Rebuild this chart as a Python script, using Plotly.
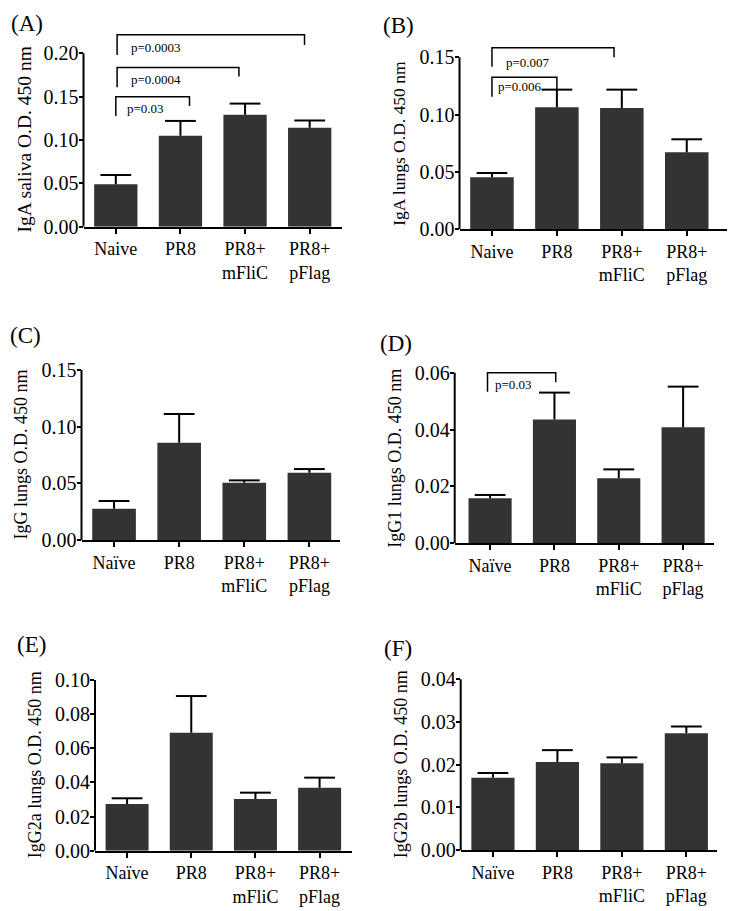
import plotly.graph_objects as go

# ---------------- data ----------------
categories = ["Naive", "PR8", "PR8+<br>mFliC", "PR8+<br>pFlag"]
categories_uml = ["Naïve", "PR8", "PR8+<br>mFliC", "PR8+<br>pFlag"]

iga_saliva = [0.049, 0.105, 0.129, 0.114]
iga_saliva_err = [0.0106, 0.017, 0.013, 0.0085]

iga_lungs = [0.0454, 0.1064, 0.1058, 0.0672]
iga_lungs_err = [0.0037, 0.0154, 0.016, 0.0113]

igg_lungs = [0.0276, 0.0859, 0.0506, 0.0594]
igg_lungs_err = [0.0068, 0.0253, 0.002, 0.0032]

igg1_lungs = [0.0158, 0.0435, 0.0229, 0.0408]
igg1_lungs_err = [0.0012, 0.0095, 0.0031, 0.0143]

igg2a_lungs = [0.0273, 0.0691, 0.0303, 0.0369]
igg2a_lungs_err = [0.0034, 0.0215, 0.0037, 0.0059]

igg2b_lungs = [0.01695, 0.0206, 0.0203, 0.02734]
igg2b_lungs_err = [0.0011, 0.0028, 0.0014, 0.0016]

y_titles = ["IgA saliva O.D. 450 nm", "IgA lungs O.D. 450 nm", "IgG lungs O.D. 450 nm",
            "IgG1 lungs O.D. 450 nm", "IgG2a lungs O.D. 450 nm", "IgG2b lungs O.D. 450 nm"]
panel_letters = ["(A)", "(B)", "(C)", "(D)", "(E)", "(F)"]

tick_A = [0.00, 0.05, 0.10, 0.15, 0.20]
tick_B = [0.00, 0.05, 0.10, 0.15]
tick_C = [0.00, 0.05, 0.10, 0.15]
tick_D = [0.00, 0.02, 0.04, 0.06]
tick_E = [0.00, 0.02, 0.04, 0.06, 0.08, 0.10]
tick_F = [0.00, 0.01, 0.02, 0.03, 0.04]

# significance comparisons: (panel index, group a, group b, p text)
comparisons = [
    (0, 0, 1, "p=0.03"),
    (0, 0, 2, "p=0.0004"),
    (0, 0, 3, "p=0.0003"),
    (1, 0, 1, "p=0.006"),
    (1, 0, 2, "p=0.007"),
    (3, 0, 1, "p=0.03"),
]

# ---------------- layout geometry ----------------
W, H = 729, 911
FONT = "Liberation Serif, Times New Roman, serif"
BAR = "#333333"

panels = [
    dict(vals=iga_saliva, err=iga_saliva_err, cats=categories, ticks=tick_A, fmt="{:.2f}",
         px=(83.5, 342), xr=(-0.5, 3.5), y0=226.7, ymax=0.20, ymaxpx=53.3, ytop=0.23, tfs=19.5),
    dict(vals=iga_lungs, err=iga_lungs_err, cats=categories, ticks=tick_B, fmt="{:.2f}",
         px=(459.5, 727), xr=(-0.5, 3.62), y0=229.3, ymax=0.15, ymaxpx=57.3, ytop=0.165, tfs=17.5),
    dict(vals=igg_lungs, err=igg_lungs_err, cats=categories_uml, ticks=tick_C, fmt="{:.2f}",
         px=(81.5, 340), xr=(-0.5, 3.47), y0=540, ymax=0.15, ymaxpx=370, ytop=0.152, tfs=18),
    dict(vals=igg1_lungs, err=igg1_lungs_err, cats=categories_uml, ticks=tick_D, fmt="{:.2f}",
         px=(454.7, 714), xr=(-0.55, 3.48), y0=543.3, ymax=0.06, ymaxpx=372.7, ytop=0.062, tfs=18),
    dict(vals=igg2a_lungs, err=igg2a_lungs_err, cats=categories_uml, ticks=tick_E, fmt="{:.2f}",
         px=(95, 351.7), xr=(-0.5, 3.5), y0=850.7, ymax=0.10, ymaxpx=680, ytop=0.101, tfs=18),
    dict(vals=igg2b_lungs, err=igg2b_lungs_err, cats=categories_uml, ticks=tick_F, fmt="{:.2f}",
         px=(460.7, 717.3), xr=(-0.5, 3.48), y0=850, ymax=0.04, ymaxpx=679.3, ytop=0.0405, tfs=18),
]

label_pos = [(26.7, 24), (398, 25), (25, 335), (396, 343), (31, 644), (397.5, 648)]

# bracket geometry per comparison (x-left, x-right, y-top, y-left-bottom, y-right-bottom, text x, text y)
bracket_geom = [
    (0.0, 1.14, 0.150, 0.1277, 0.1393, 0.14, 0.1358),
    (0.02, 1.905, 0.1835, 0.1608, 0.1731, 0.206, 0.170),
    (0.02, 2.92, 0.2215, 0.198, 0.2097, 0.206, 0.2065),
    (0.0, 1.0, 0.1326, 0.1157, 0.1221, 0.057, 0.1244),
    (0.0, 1.88, 0.1584, 0.1418, 0.150, 0.185, 0.1456),
    (-0.04, 1.02, 0.060, 0.0533, 0.0566, 0.05, 0.056),
]

fig = go.Figure()
layout = dict(template="none", width=W, height=H,
              margin=dict(l=0, r=0, t=0, b=0, pad=0, autoexpand=False),
              paper_bgcolor="white", plot_bgcolor="white", showlegend=False,
              font=dict(family=FONT, color="black"))
shapes = []
annotations = []

for i, p in enumerate(panels):
    n = "" if i == 0 else str(i + 1)
    xa, ya = "x" + n, "y" + n
    xs = list(range(len(p["vals"])))
    tops = [v + e for v, e in zip(p["vals"], p["err"])]
    fig.add_trace(go.Bar(
        x=xs, y=p["vals"], xaxis=xa, yaxis=ya,
        width=0.67, marker=dict(color=BAR, line=dict(width=0)),
    ))
    # upper error bars: stem from bar top to mean+SEM, cap at the end
    stem_x, stem_y = [], []
    for xv, v, t in zip(xs, p["vals"], tops):
        stem_x += [xv, xv, None]
        stem_y += [v, t, None]
    fig.add_trace(go.Scatter(x=stem_x, y=stem_y, xaxis=xa, yaxis=ya, mode="lines",
                             line=dict(color="black", width=2), hoverinfo="skip"))
    fig.add_trace(go.Scatter(x=xs, y=tops, xaxis=xa, yaxis=ya, mode="markers",
                             marker=dict(symbol="line-ew", size=22, color="black",
                                         line=dict(color="black", width=2)),
                             cliponaxis=False, hoverinfo="skip"))
    scale = (p["y0"] - p["ymaxpx"]) / p["ymax"]
    top_px = p["y0"] - p["ytop"] * scale
    xdom = [p["px"][0] / W, p["px"][1] / W]
    ydom = [1 - p["y0"] / H, 1 - top_px / H]
    layout["xaxis" + n] = dict(
        domain=xdom, range=list(p["xr"]), anchor=ya, showgrid=False, zeroline=False,
        automargin=False, showline=True, linewidth=2, linecolor="black",
        tickmode="array", tickvals=xs, ticktext=p["cats"],
        ticks="outside", ticklen=5, tickwidth=2, tickcolor="black",
        tickfont=dict(family=FONT, size=18, color="black"), fixedrange=True)
    layout["yaxis" + n] = dict(
        domain=ydom, range=[0, p["ytop"]], anchor=xa, showgrid=False, zeroline=False,
        automargin=False, showline=False, tickmode="array", tickvals=p["ticks"],
        ticktext=[p["fmt"].format(t) for t in p["ticks"]],
        ticks="outside", ticklen=4, tickwidth=2, tickcolor="black", ticklabelstandoff=-4,
        tickfont=dict(family=FONT, size=20, color="black"), fixedrange=True)
    # y axis line only up to top tick
    shapes.append(dict(type="line", xref=xa + " domain", yref=ya, x0=0, x1=0,
                       y0=0, y1=p["ymax"], line=dict(color="black", width=2)))
    # y title
    annotations.append(dict(text=y_titles[i], xref=xa + " domain", yref=ya, x=0, y=p["ymax"] / 2,
                            xshift=-60, textangle=-90, showarrow=False, xanchor="center",
                            yanchor="middle", font=dict(family=FONT, size=p["tfs"], color="black")))
    # panel letter
    lx, ly = label_pos[i]
    annotations.append(dict(text=panel_letters[i], xref="paper", yref="paper", x=lx / W, y=1 - ly / H,
                            showarrow=False, xanchor="center", yanchor="middle",
                            font=dict(family=FONT, size=23, color="black")))

for (pi, a, b, txt), g in zip(comparisons, bracket_geom):
    n = "" if pi == 0 else str(pi + 1)
    xa, ya = "x" + n, "y" + n
    xl, xr, yt, ylb, yrb, tx, ty = g
    shapes.append(dict(type="path", xref=xa, yref=ya,
                       path=f"M {xl} {ylb} L {xl} {yt} L {xr} {yt} L {xr} {yrb}",
                       line=dict(color="black", width=1.5)))
    annotations.append(dict(text=txt, xref=xa, yref=ya, x=tx, y=ty, showarrow=False,
                            xanchor="left", yanchor="middle",
                            font=dict(family=FONT, size=13, color="black")))

layout["shapes"] = shapes
layout["annotations"] = annotations
fig.update_layout(**layout)
fig.write_html("out.html", post_script="document.body.style.margin='0';",
               config={"displayModeBar": False})
